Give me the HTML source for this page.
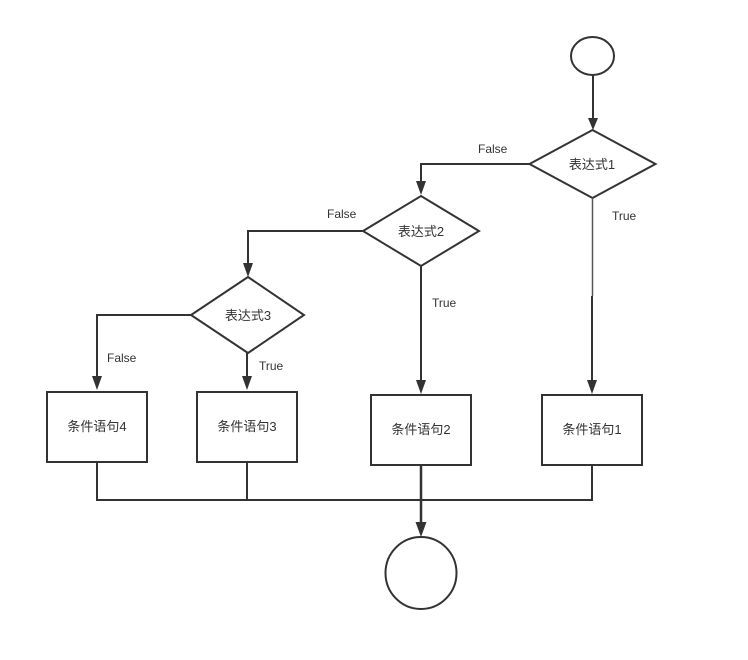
<!DOCTYPE html>
<html>
<head>
<meta charset="utf-8">
<style>
html,body{margin:0;padding:0;background:#fff;}
svg{display:block;}
text{font-family:"Liberation Sans","Noto Sans CJK SC",sans-serif;fill:#333;}
</style>
</head>
<body>
<svg width="748" height="660" viewBox="0 0 748 660" xmlns="http://www.w3.org/2000/svg">
<defs>
<marker id="ar" markerWidth="10" markerHeight="13" refX="5" refY="12.5" orient="auto" markerUnits="userSpaceOnUse" viewBox="0 0 10 13">
</marker>
</defs>
<g stroke="#333" stroke-width="2" fill="none">
  <!-- top circle -->
  <ellipse cx="592.5" cy="56" rx="21.5" ry="19" fill="#fff"/>
  <!-- circle to d1 -->
  <line x1="593" y1="75" x2="593" y2="120"/>
  <!-- diamond 1 -->
  <polygon points="592.5,130 655.5,164 592.5,198 529.5,164" fill="#fff"/>
  <!-- d1 false -->
  <polyline points="529.5,164 421,164 421,184"/>
  <!-- d1 true -->
  <line x1="592.5" y1="198" x2="592.5" y2="296" stroke-width="1.5" stroke="#555"/>
  <line x1="592" y1="296" x2="592" y2="384"/>
  <!-- diamond 2 -->
  <polygon points="421,196 479,231 421,266 363,231" fill="#fff"/>
  <!-- d2 false -->
  <polyline points="363,231 248,231 248,266"/>
  <!-- d2 true -->
  <line x1="421" y1="266" x2="421" y2="383"/>
  <!-- diamond 3 -->
  <polygon points="248,277 304,315 248,353 191,315" fill="#fff"/>
  <!-- d3 false -->
  <polyline points="191,315 97,315 97,380"/>
  <!-- d3 true -->
  <line x1="247" y1="353" x2="247" y2="380"/>
  <!-- boxes -->
  <rect x="47" y="392" width="100" height="70" fill="#fff"/>
  <rect x="197" y="392" width="100" height="70" fill="#fff"/>
  <rect x="371" y="395" width="100" height="70" fill="#fff"/>
  <rect x="542" y="395" width="100" height="70" fill="#fff"/>
  <!-- bottom connectors -->
  <polyline points="97,462 97,500 592,500 592,465"/>
  <line x1="247" y1="462" x2="247" y2="500"/>
  <line x1="421" y1="465" x2="421" y2="524" stroke-width="2.5"/>
  <!-- end circle -->
  <ellipse cx="421" cy="573" rx="35.5" ry="36" fill="#fff"/>
</g>
<!-- arrowheads -->
<g fill="#333" stroke="none">
  <polygon points="588,118 598,118 593,130"/>
  <polygon points="416,181 426,181 421,195"/>
  <polygon points="243,263 253,263 248,277"/>
  <polygon points="92,376 102,376 97,390"/>
  <polygon points="242,376 252,376 247,390"/>
  <polygon points="416,380 426,380 421,394"/>
  <polygon points="587,380 597,380 592,394"/>
  <polygon points="415.5,522 426.5,522 421,537"/>
</g>
<!-- labels -->
<g font-size="13" text-anchor="middle">
  <text x="592" y="169">表达式1</text>
  <text x="421" y="236">表达式2</text>
  <text x="248" y="320">表达式3</text>
  <text x="97" y="431">条件语句4</text>
  <text x="247" y="431">条件语句3</text>
  <text x="421" y="434">条件语句2</text>
  <text x="592" y="434">条件语句1</text>
</g>
<g font-size="12">
  <text x="478" y="153">False</text>
  <text x="612" y="220">True</text>
  <text x="327" y="218">False</text>
  <text x="432" y="307">True</text>
  <text x="259" y="370">True</text>
  <text x="107" y="362">False</text>
</g>
</svg>
</body>
</html>
